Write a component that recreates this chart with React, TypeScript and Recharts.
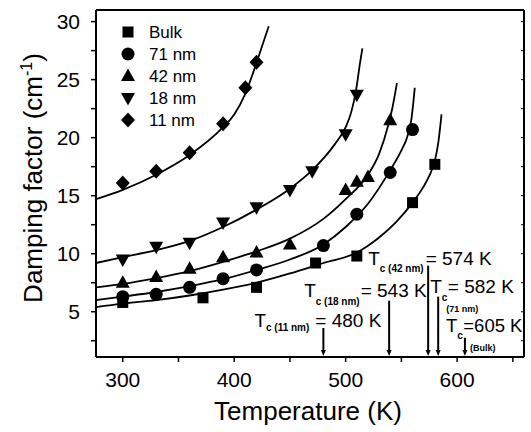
import { ComposedChart, Line, Scatter, XAxis, YAxis, ReferenceLine } from 'recharts'

const FONT = '"Liberation Sans", Arial, Helvetica, sans-serif'

// measured points (temperature K, damping factor cm^-1)
const bulkT = [300, 372, 420, 473, 510, 560, 580]
const bulkG = [5.8, 6.2, 7.1, 9.2, 9.8, 14.4, 17.7]
const nm71T = [300, 330, 360, 390, 420, 480, 510, 540, 560]
const nm71G = [6.3, 6.5, 7.1, 7.85, 8.6, 10.7, 13.4, 17.0, 20.7]
const nm42T = [300, 330, 360, 390, 420, 450, 500, 510, 520, 540]
const nm42G = [7.5, 8.0, 8.7, 9.7, 10.1, 10.8, 15.5, 16.2, 16.6, 21.5]
const nm18T = [300, 330, 360, 390, 420, 450, 470, 500, 510]
const nm18G = [9.5, 10.6, 10.95, 12.7, 14.0, 15.5, 17.1, 20.3, 23.7]
const nm11T = [300, 330, 360, 390, 410, 420]
const nm11G = [16.1, 17.1, 18.7, 21.2, 24.3, 26.5]

// fitted curves
const bulkFitT = [276, 300, 330, 360, 390, 420, 450, 480, 510, 530, 545, 560, 570, 575, 580, 583, 586]
const bulkFitG = [5.4, 5.7, 6.0, 6.4, 6.9, 7.5, 8.3, 9.2, 10.1, 11.4, 12.7, 14.4, 15.8, 16.7, 18.0, 19.5, 22.0]
const nm71FitT = [276, 300, 330, 360, 390, 420, 450, 480, 500, 520, 540, 550, 555, 559, 562]
const nm71FitG = [6.0, 6.3, 6.7, 7.2, 7.8, 8.6, 9.5, 10.8, 12.3, 14.3, 17.2, 18.9, 20.0, 21.6, 24.3]
const nm42FitT = [276, 300, 330, 360, 390, 420, 450, 480, 500, 520, 530, 538, 542, 546]
const nm42FitG = [7.1, 7.4, 7.9, 8.5, 9.3, 10.2, 11.3, 13.0, 14.7, 16.8, 18.6, 21.0, 22.6, 24.7]
const nm18FitT = [276, 300, 330, 360, 390, 420, 450, 470, 490, 500, 505, 509, 513, 515]
const nm18FitG = [9.2, 9.7, 10.3, 11.1, 12.3, 13.8, 15.6, 17.2, 19.4, 20.9, 22.2, 23.9, 26.5, 27.7]
const nm11FitT = [276, 300, 330, 360, 390, 400, 410, 417, 424, 431]
const nm11FitG = [14.7, 15.5, 16.8, 18.5, 20.9, 22.0, 23.8, 25.6, 27.6, 29.6]

const xTicks = [300, 350, 400, 450, 500, 550, 600, 650]
const yTicks = [2.5, 5, 7.5, 10, 12.5, 15, 17.5, 20, 22.5, 25, 27.5, 30]

// Tc arrows: temperature, top of arrow
const tcT = [480, 539, 574, 583, 607]
const tcTop = [3.6, 5.95, 8.97, 6.3, 2.76]
const tcSub = ['c (11 nm)', 'c (18 nm)', 'c (42 nm)', 'c', 'c']
const tcValue = ['= 480 K', '= 543 K', '= 574 K', '= 582 K', '=605 K']
const tcNote = ['', '', '', '(71 nm)', '(Bulk)']

// label placement relative to the arrow top
const tcLayout = [
  { dx: -69, dy: -1, size: 19, subDy: 4, valDx: 6 },
  { dx: -85, dy: -4, size: 19, subDy: 8, valDx: 1 },
  { dx: -60, dy: -1, size: 19, subDy: 7, valDx: 2 },
  { dx: -8, dy: -4, size: 19, subDy: 8, valDx: 0.5, noteDx: 8, noteDy: 15.5 },
  { dx: -19, dy: -6, size: 18.5, subDy: 7, valDx: 0.5, noteDx: 5, noteDy: 13 },
]

const X_MIN = 276
const X_MAX = 660
const Y_MIN = 1.1
const Y_MAX = 31

type Kind = 'square' | 'circle' | 'up' | 'down' | 'diamond'

function Marker({ kind, cx, cy }: { kind: Kind; cx: number; cy: number }) {
  if (kind === 'square') return <rect x={cx - 5.5} y={cy - 5.5} width={11} height={11} fill="#000" />
  if (kind === 'circle') return <circle cx={cx} cy={cy} r={6.5} fill="#000" />
  if (kind === 'up') return <polygon points={`${cx},${cy - 7.5} ${cx + 7},${cy + 5} ${cx - 7},${cy + 5}`} fill="#000" />
  if (kind === 'down') return <polygon points={`${cx - 7},${cy - 5} ${cx + 7},${cy - 5} ${cx},${cy + 7.5}`} fill="#000" />
  return <polygon points={`${cx},${cy - 7.5} ${cx + 7},${cy} ${cx},${cy + 7.5} ${cx - 7},${cy}`} fill="#000" />
}

const zip = (xs: number[], ys: number[]) => xs.map((x, i) => ({ x, y: ys[i] }))

const series: { name: string; kind: Kind; pts: { x: number; y: number }[]; fit: { x: number; y: number }[] }[] = [
  { name: 'Bulk', kind: 'square', pts: zip(bulkT, bulkG), fit: zip(bulkFitT, bulkFitG) },
  { name: '71 nm', kind: 'circle', pts: zip(nm71T, nm71G), fit: zip(nm71FitT, nm71FitG) },
  { name: '42 nm', kind: 'up', pts: zip(nm42T, nm42G), fit: zip(nm42FitT, nm42FitG) },
  { name: '18 nm', kind: 'down', pts: zip(nm18T, nm18G), fit: zip(nm18FitT, nm18FitG) },
  { name: '11 nm', kind: 'diamond', pts: zip(nm11T, nm11G), fit: zip(nm11FitT, nm11FitG) },
]

function tcArrow(p: any, i: number) {
  const { x1, y1, y2 } = p
  const top = Math.min(y1, y2)
  const bot = Math.max(y1, y2)
  const l = tcLayout[i]
  return (
    <g>
      <line x1={x1} y1={top} x2={x1} y2={bot - 5} stroke="#000" strokeWidth={2} />
      <polygon points={`${x1 - 2.5},${bot - 7} ${x1 + 2.5},${bot - 7} ${x1},${bot - 1}`} fill="#000" />
      <text x={x1 + l.dx} y={top + l.dy} fontSize={l.size} fontFamily={FONT} fill="#000">
        T
        <tspan dy={l.subDy} fontSize={10} fontWeight={700}>{tcSub[i]}</tspan>
        <tspan dx={l.valDx} dy={-l.subDy}>{tcValue[i]}</tspan>
      </text>
      {tcNote[i] && (
        <text x={x1 + (l.noteDx ?? 0)} y={top + (l.noteDy ?? 0)} fontSize={9} fontWeight={700}
          fontFamily={FONT} fill="#000">
          {tcNote[i]}
        </text>
      )}
    </g>
  )
}

const tickStyle = { fill: '#000', fontSize: 21, fontFamily: FONT }

export default function App() {
  return (
    <div style={{ position: 'absolute', left: 0, top: 0, width: 531, height: 432, background: '#fff' }}>
      <ComposedChart width={531} height={432} margin={{ top: 10, right: 7, bottom: 0, left: 0 }}>
        <XAxis
          type="number" dataKey="x" domain={[X_MIN, X_MAX]} allowDataOverflow ticks={xTicks} interval={0}
          height={75} tickSize={5} tickMargin={10} tick={tickStyle}
          tickFormatter={(v: number) => (v % 100 === 0 ? String(v) : '')}
          axisLine={{ stroke: '#000', strokeWidth: 2 }} tickLine={{ stroke: '#000', strokeWidth: 1.5 }}
        />
        <XAxis
          xAxisId="top" orientation="top" type="number" domain={[X_MIN, X_MAX]} allowDataOverflow ticks={xTicks}
          interval={0} height={1} mirror tickSize={3} tickFormatter={() => ''}
          axisLine={{ stroke: '#000', strokeWidth: 2 }} tickLine={{ stroke: '#000', strokeWidth: 1 }}
        />
        <YAxis
          type="number" dataKey="y" domain={[Y_MIN, Y_MAX]} allowDataOverflow ticks={yTicks} interval={0}
          width={96} tickSize={5} tickMargin={11} tick={tickStyle}
          tickFormatter={(v: number) => (v % 5 === 0 ? String(v) : '')}
          axisLine={{ stroke: '#000', strokeWidth: 2 }} tickLine={{ stroke: '#000', strokeWidth: 1.5 }}
        />
        <YAxis
          yAxisId="r" orientation="right" type="number" domain={[Y_MIN, Y_MAX]} allowDataOverflow ticks={yTicks}
          interval={0} width={1} mirror tickSize={3} tickFormatter={() => ''}
          axisLine={{ stroke: '#000', strokeWidth: 2 }} tickLine={{ stroke: '#000', strokeWidth: 1 }}
        />
        {series.map((s) => (
          <Line
            key={'fit' + s.name} data={s.fit} dataKey="y" type="monotone" dot={false} activeDot={false}
            stroke="#000" strokeWidth={1.8} isAnimationActive={false}
          />
        ))}
        {series.map((s) => (
          <Scatter
            key={'pts' + s.name} data={s.pts} dataKey="y" isAnimationActive={false}
            shape={(p: any) => <Marker kind={s.kind} cx={p.cx} cy={p.cy} />}
          />
        ))}
        {tcT.map((t, i) => (
          <ReferenceLine
            key={'tc' + i} ifOverflow="visible"
            segment={[{ x: t, y: tcTop[i] }, { x: t, y: Y_MIN }]}
            shape={(p: any) => tcArrow(p, i)}
          />
        ))}
      </ComposedChart>
      <svg width={531} height={432} style={{ position: 'absolute', left: 0, top: 0, pointerEvents: 'none' }}>
        {series.map((s, i) => (
          <g key={s.name}>
            <Marker kind={s.kind} cx={128} cy={32 + i * 22} />
            <text x={149} y={38 + i * 22} fontSize={17} fontFamily={FONT} fill="#000">{s.name}</text>
          </g>
        ))}
        <text x={308} y={420} fontSize={26} fontFamily={FONT} fill="#000" textAnchor="middle">Temperature (K)</text>
        <text x={42} y={178} fontSize={26} fontFamily={FONT} fill="#000" textAnchor="middle"
          transform="rotate(-90 42 178)">
          Damping factor (cm<tspan dy={-10} fontSize={16}>-1</tspan><tspan dy={10}>)</tspan>
        </text>
      </svg>
    </div>
  )
}
